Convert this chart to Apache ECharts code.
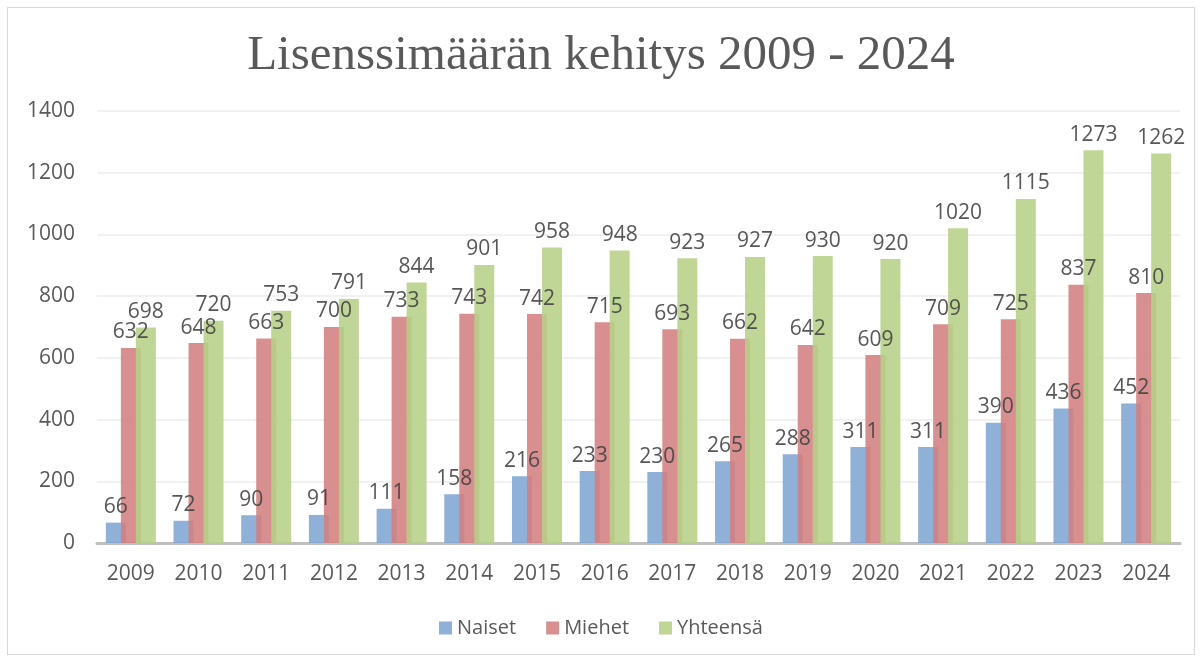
<!DOCTYPE html>
<html>
<head>
<meta charset="utf-8">
<script src="https://cdn.jsdelivr.net/npm/echarts@6/dist/echarts.min.js"></script>
<style>
  html, body { margin: 0; padding: 0; background: #fff; }
  #frame { position: absolute; left: 7px; top: 7px; width: 1186px; height: 646px; border: 1px solid #d9d9d9; }
  #chart { position: absolute; left: 0; top: 0; width: 1202px; height: 661px; }
</style>
</head>
<body>
<div id="frame"></div>
<div id="chart"></div>
<script>
const years = ['2009','2010','2011','2012','2013','2014','2015','2016','2017','2018','2019','2020','2021','2022','2023','2024'];
const naiset = [66, 72, 90, 91, 111, 158, 216, 233, 230, 265, 288, 311, 311, 390, 436, 452];
const miehet = [632, 648, 663, 700, 733, 743, 742, 715, 693, 662, 642, 609, 709, 725, 837, 810];
const yhteensa = [698, 720, 753, 791, 844, 901, 958, 948, 923, 927, 930, 920, 1020, 1115, 1273, 1262];

const font = 'Open Sans';
const label = {
  show: true,
  position: 'top',
  distance: 5,
  color: '#404040',
  fontFamily: font,
  fontSize: 21
};

function bar(name, data, color) {
  return {
    name: name,
    type: 'bar',
    data: data,
    barWidth: 20,
    barGap: '-25%',
    itemStyle: { color: color, opacity: 0.88 },
    label: label
  };
}

const chart = echarts.init(document.getElementById('chart'), null, { renderer: 'canvas' });
chart.setOption({
  animation: false,
  title: {
    text: 'Lisenssimäärän kehitys 2009 - 2024',
    left: 'center',
    top: 27,
    textStyle: { fontFamily: 'Liberation Serif', fontSize: 49, fontWeight: 'normal', color: '#595959' }
  },
  legend: {
    bottom: 18,
    itemWidth: 13,
    itemHeight: 13,
    itemGap: 30,
    icon: 'rect',
    textStyle: { fontFamily: font, fontSize: 20, color: '#595959' },
    data: ['Naiset', 'Miehet', 'Yhteensä']
  },
  grid: { left: 97, right: 22, top: 111, bottom: 118 },
  xAxis: {
    type: 'category',
    data: years,
    axisTick: { show: false },
    axisLine: { lineStyle: { color: '#bfbfbf', width: 3 } },
    axisLabel: { color: '#595959', fontFamily: font, fontSize: 21, margin: 21 }
  },
  yAxis: {
    type: 'value',
    min: 0,
    max: 1400,
    interval: 200,
    axisLabel: { color: '#595959', fontFamily: font, fontSize: 21, margin: 22, formatter: v => String(v) },
    splitLine: { lineStyle: { color: '#ececec', width: 1.5 } }
  },
  series: [
    bar('Naiset', naiset, '#7fa6d2'),
    bar('Miehet', miehet, '#d37f7f'),
    bar('Yhteensä', yhteensa, '#b6d089')
  ]
});
</script>
</body>
</html>
